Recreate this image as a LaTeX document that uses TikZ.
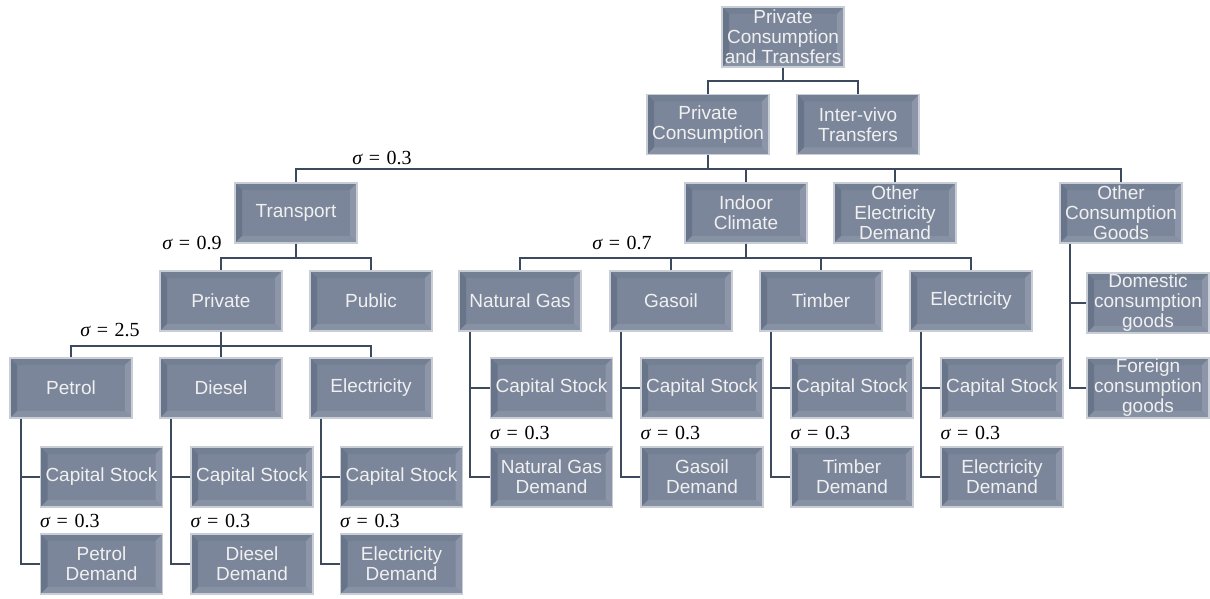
\documentclass[tikz,border=0pt]{standalone}
\usepackage[no-math]{fontspec}
\setmainfont{Liberation Sans}
\newfontfamily\sigfont{Liberation Serif}
\usetikzlibrary{calc}
\definecolor{boxface}{HTML}{7B869A}
\definecolor{boxdark}{HTML}{68748A}
\definecolor{boxmid}{HTML}{737F93}
\definecolor{boxlight}{HTML}{8C96A8}
\definecolor{boxlow}{HTML}{8691A3}
\definecolor{boxrim}{HTML}{C9CED6}
\definecolor{linkcol}{HTML}{3D495C}
\newcommand{\sigval}[1]{{\itshape σ}\,\,=\,\,#1}

\begin{document}
\begin{tikzpicture}[x=1pt,y=-1pt,
  box/.style={draw=boxrim,line width=1.2pt,fill=boxface,minimum width=122pt,
    minimum height=60pt,inner sep=1pt,align=center,text=white!94!black,
    font=\fontsize{19}{20}\selectfont,
    path picture={
      \path (path picture bounding box.north west) coordinate (bnw)
            (path picture bounding box.north east) coordinate (bne)
            (path picture bounding box.south east) coordinate (bse)
            (path picture bounding box.south west) coordinate (bsw);
      \fill[boxmid] (bnw) -- (bne) -- ([shift={(-7pt,-7pt)}]bne) -- ([shift={(7pt,-7pt)}]bnw) -- cycle;
      \fill[boxdark] (bnw) -- ([shift={(7pt,-7pt)}]bnw) -- ([shift={(7pt,7pt)}]bsw) -- (bsw) -- cycle;
      \fill[boxlight] (bne) -- (bse) -- ([shift={(-7pt,7pt)}]bse) -- ([shift={(-7pt,-7pt)}]bne) -- cycle;
      \fill[boxlow] (bsw) -- (bse) -- ([shift={(-7pt,7pt)}]bse) -- ([shift={(7pt,7pt)}]bsw) -- cycle;
    }},
  link/.style={draw=linkcol,line width=2pt},
  sig/.style={font=\sigfont\fontsize{20}{21}\selectfont,inner sep=0pt}
]
\useasboundingbox (0,0) rectangle (1210,599);

% top levels
\node[box] (top) at (783,37) {Private\\Consumption\\and Transfers};
\node[box] (pc) at (708,124.5) {Private\\Consumption};
\node[box] (iv) at (858,124.5) {Inter-vivo\\Transfers};
\draw[link] (top.south) -- ++(0,13) -| (pc.north);
\draw[link] (top.south) -- ++(0,13) -| (iv.north);

\node[box] (trans) at (296,213) {Transport};
\node[box] (indoor) at (746,213) {Indoor\\Climate};
\node[box] (othel) at (895,213) {Other\\Electricity\\Demand};
\node[box] (othcg) at (1121,213) {Other\\Consumption\\Goods};
\foreach \n in {trans,indoor,othel,othcg}
  \draw[link] (pc.south) -- ++(0,14) -| (\n.north);
\node[sig] (s1) at (382,158) {\sigval{0.3}};

% transport
\node[box] (priv) at (221,301) {Private};
\node[box] (pub) at (371,301) {Public};
\foreach \n in {priv,pub}
  \draw[link] (trans.south) -- ++(0,14) -| (\n.north);
\node[sig] (s2) at (192,243) {\sigval{0.9}};

\node[box] (pet) at (71,388) {Petrol};
\node[box] (dsl) at (221,388) {Diesel};
\node[box] (elt) at (371,388) {Electricity};
\foreach \n in {pet,dsl,elt}
  \draw[link] (priv.south) -- ++(0,14) -| (\n.north);
\node[sig] (s4) at (110,330) {\sigval{2.5}};

\node[box] (petcap) at (101.5,477) {Capital Stock};
\node[box] (petdem) at (101.5,564) {Petrol\\Demand};
\node[box] (dslcap) at (252,477) {Capital Stock};
\node[box] (dsldem) at (252,564) {Diesel\\Demand};
\node[box] (eltcap) at (401.5,477) {Capital Stock};
\node[box] (eltdem) at (401.5,564) {Electricity\\Demand};

% indoor climate
\node[box] (gas) at (520,301) {Natural Gas};
\node[box] (oil) at (671,301) {Gasoil};
\node[box] (tim) at (821,301) {Timber};
\node[box] (elh) at (971,301) {Electricity};
\foreach \n in {gas,oil,tim,elh}
  \draw[link] (indoor.south) -- ++(0,14) -| (\n.north);
\node[sig] (s3) at (622,243) {\sigval{0.7}};

\node[box] (gascap) at (551.5,388) {Capital Stock};
\node[box] (gasdem) at (551.5,477) {Natural Gas\\Demand};
\node[box] (oilcap) at (702,388) {Capital Stock};
\node[box] (oildem) at (702,477) {Gasoil\\Demand};
\node[box] (timcap) at (852,388) {Capital Stock};
\node[box] (timdem) at (852,477) {Timber\\Demand};
\node[box] (elhcap) at (1002,388) {Capital Stock};
\node[box] (elhdem) at (1002,477) {Electricity\\Demand};

% capital stock vs demand
\foreach \p/\c/\d in {pet/petcap/petdem,dsl/dslcap/dsldem,elt/eltcap/eltdem,
    gas/gascap/gasdem,oil/oilcap/oildem,tim/timcap/timdem,elh/elhcap/elhdem} {
  \draw[link] ([xshift=12pt]\p.south west) |- (\c.west);
  \draw[link] ([xshift=12pt]\p.south west) |- (\d.west);
  \node[sig,anchor=west] (s\c) at ($(\c.south west)!.5!(\d.north west)$) {\sigval{0.3}};
}

% other consumption goods
\node[box] (dom) at (1148,303) {Domestic\\consumption\\goods};
\node[box] (frn) at (1148,388) {Foreign\\consumption\\goods};
\draw[link] ([xshift=11pt]othcg.south west) |- (dom.west);
\draw[link] ([xshift=11pt]othcg.south west) |- (frn.west);

\end{tikzpicture}
\end{document}
